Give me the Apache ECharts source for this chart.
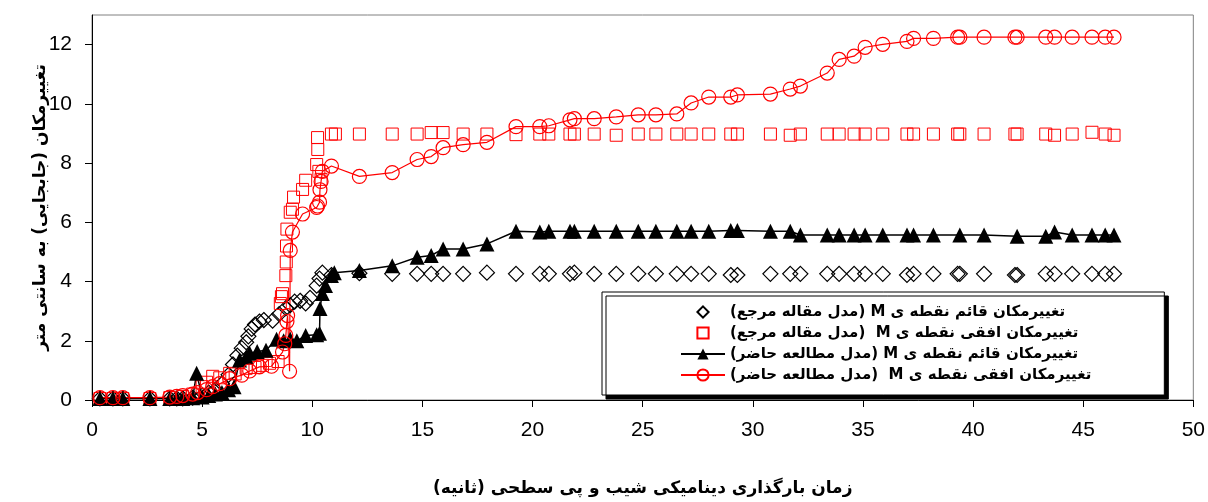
<!DOCTYPE html>
<html>
<head>
<meta charset="utf-8">
<script src="https://cdn.jsdelivr.net/npm/echarts@6/dist/echarts.min.js"></script>
<style>
  html, body { margin: 0; padding: 0; background: #fff; }
  #chart { width: 1208px; height: 502px; }
</style>
</head>
<body>
<div id="chart"></div>
<script>
// Displacement of point M (cm) against dynamic loading time (s)
// Reference model: vertical displacement (diamonds)
const refVertical = [
  [0.36,0.05],[0.95,0.05],[1.4,0.05],[2.63,0.05],[3.53,0.05],[3.85,0.05],[4.12,0.05],[4.57,0.08],
  [5.0,0.15],[5.3,0.25],[5.6,0.35],[5.9,0.55],[6.2,0.85],[6.4,1.2],[6.6,1.5],[6.8,1.75],[7.0,1.95],
  [7.1,2.15],[7.25,2.4],[7.4,2.55],[7.6,2.65],[7.8,2.7],[8.2,2.68],[8.5,2.9],[8.8,3.1],[9.0,3.2],
  [9.2,3.32],[9.45,3.35],[9.7,3.26],[9.9,3.45],[10.2,3.86],[10.33,4.1],[10.46,4.3],[10.87,4.22],
  [12.14,4.28],[13.63,4.26],[14.76,4.26],[15.4,4.26],[15.94,4.26],[16.85,4.26],[17.93,4.3],[19.25,4.26],
  [20.33,4.26],[20.74,4.26],[21.7,4.26],[21.9,4.3],[22.8,4.26],[23.8,4.26],[24.8,4.26],[25.6,4.26],
  [26.55,4.26],[27.2,4.26],[28.0,4.26],[29.0,4.22],[29.3,4.22],[30.8,4.26],[31.7,4.26],[32.16,4.26],
  [33.38,4.26],[33.92,4.26],[34.6,4.26],[35.1,4.26],[35.9,4.26],[37.0,4.22],[37.3,4.26],[38.2,4.26],
  [39.3,4.26],[39.4,4.26],[40.5,4.26],[41.9,4.22],[42.0,4.22],[43.3,4.26],[43.7,4.26],[44.5,4.26],
  [45.4,4.26],[46.0,4.26],[46.4,4.26]
];
// Reference model: horizontal displacement (squares)
const refHorizontal = [
  [0.36,0.05],[0.95,0.05],[1.4,0.05],[2.63,0.05],[3.53,0.08],[4.12,0.12],[4.57,0.2],[5.0,0.45],
  [5.2,0.6],[5.48,0.8],[5.8,0.75],[6.25,0.9],[6.5,0.88],[7.0,1.07],[7.4,1.1],[7.74,1.17],[8.06,1.24],
  [8.45,1.3],[8.55,3.26],[8.6,3.49],[8.65,3.59],[8.8,4.2],[8.82,4.66],[8.83,5.2],[8.85,5.77],[9.0,6.34],
  [9.1,6.44],[9.15,6.85],[9.56,7.11],[9.7,7.42],[10.2,7.95],[10.3,7.72],[10.4,7.45],[10.25,8.46],
  [10.24,8.86],[10.87,8.98],[11.05,8.98],
  [12.14,8.98],[13.63,8.98],[14.76,8.98],[15.4,9.03],[15.94,9.03],[16.85,8.98],[17.93,8.98],[19.25,8.96],
  [20.33,8.98],[20.74,8.98],[21.7,8.98],[21.9,8.98],[22.8,8.98],[23.8,8.94],[24.8,8.98],[25.6,8.98],
  [26.55,8.98],[27.2,8.98],[28.0,8.98],[29.0,8.98],[29.3,8.98],[30.8,8.98],[31.7,8.94],[32.16,8.98],
  [33.38,8.98],[33.92,8.98],[34.6,8.98],[35.1,8.98],[35.9,8.98],[37.0,8.98],[37.3,8.98],[38.2,8.98],
  [39.3,8.98],[39.4,8.98],[40.5,8.98],[41.9,8.98],[42.0,8.98],[43.3,8.98],[43.7,8.94],[44.5,8.98],
  [45.4,9.04],[46.0,8.98],[46.4,8.94]
];
// Present study: vertical displacement (triangles, joined)
const presentVertical = [
  [0.36,0.05],[0.95,0.05],[1.4,0.05],[2.63,0.05],[3.53,0.05],[3.85,0.05],[4.12,0.05],[4.57,0.08],
  [4.75,0.9],[5.0,0.1],[5.3,0.15],[5.6,0.2],[5.9,0.25],[6.2,0.35],[6.45,0.45],[6.7,1.35],[7.0,1.45],
  [7.16,1.58],[7.5,1.64],[7.9,1.68],[8.38,2.05],[8.7,2.0],[9.0,2.05],[9.3,2.0],[9.7,2.18],[10.2,2.2],
  [10.33,2.25],[10.35,3.09],[10.46,3.6],[10.6,3.87],[10.87,4.2],[11.0,4.3],
  [12.14,4.37],[13.63,4.53],[14.76,4.82],[15.4,4.88],[15.94,5.1],[16.85,5.1],[17.93,5.27],[19.25,5.7],
  [20.33,5.67],[20.74,5.7],[21.7,5.7],[21.9,5.7],[22.8,5.7],[23.8,5.7],[24.8,5.7],[25.6,5.7],
  [26.55,5.7],[27.2,5.7],[28.0,5.7],[29.0,5.72],[29.3,5.72],[30.8,5.7],[31.7,5.7],[32.16,5.57],
  [33.38,5.57],[33.92,5.57],[34.6,5.57],[35.1,5.57],[35.9,5.57],[37.0,5.57],[37.3,5.57],[38.2,5.57],
  [39.4,5.57],[40.5,5.57],[42.0,5.53],[43.3,5.53],[43.7,5.67],[44.5,5.57],[45.4,5.57],[46.0,5.57],
  [46.4,5.57]
];
// Present study: horizontal displacement (circles, joined)
const presentHorizontal = [
  [0.36,0.08],[0.95,0.08],[1.4,0.08],[2.63,0.08],[3.53,0.1],[3.85,0.12],[4.12,0.15],[4.57,0.2],
  [4.8,0.25],[5.2,0.35],[5.48,0.45],[5.8,0.55],[6.25,0.72],[6.8,0.84],[7.16,0.98],[7.6,1.12],[8.15,1.14],
  [8.65,1.62],[8.75,1.9],[8.8,2.18],[8.85,2.65],[8.88,2.85],[8.97,0.97],[9.0,5.05],[9.1,5.67],[9.56,6.28],
  [10.2,6.5],[10.24,6.55],[10.33,6.68],[10.35,7.1],[10.4,7.38],[10.46,7.72],[10.87,7.9],
  [12.14,7.55],[13.63,7.68],[14.76,8.12],[15.4,8.22],[15.94,8.52],[16.85,8.62],[17.93,8.7],[19.25,9.23],
  [20.33,9.23],[20.74,9.26],[21.7,9.46],[21.9,9.5],[22.8,9.5],[23.8,9.56],[24.8,9.63],[25.6,9.63],
  [26.55,9.66],[27.2,10.03],[28.0,10.23],[29.0,10.23],[29.3,10.3],[30.8,10.33],[31.7,10.5],[32.16,10.6],
  [33.38,11.04],[33.92,11.5],[34.6,11.61],[35.1,11.91],[35.9,12.01],[37.0,12.11],[37.3,12.21],[38.2,12.21],
  [39.3,12.25],[39.4,12.25],[40.5,12.25],[41.9,12.25],[42.0,12.25],[43.3,12.25],[43.7,12.25],[44.5,12.25],
  [45.4,12.25],[46.0,12.25],[46.4,12.25]
];

const yTickValues = [0, 2, 4, 6, 8, 10, 12];

// Right-to-left embedding for Persian strings
const RLE = '\u202B', PDF = '\u202C';
const rtl = s => RLE + s + PDF;

const seriesNames = [
  rtl('تغییرمکان قائم نقطه ی M (مدل مقاله مرجع)'),
  rtl('تغییرمکان افقی نقطه ی M  (مدل مقاله مرجع)'),
  rtl('تغییرمکان قائم نقطه ی M (مدل مطالعه حاضر)'),
  rtl('تغییرمکان افقی نقطه ی M  (مدل مطالعه حاضر)')
];
const yTitle = rtl('تغییرمکان (جابجایی) به سانتی متر');
const xTitle = rtl('زمان بارگذاری دینامیکی شیب و پی سطحی (ثانیه)');

const FA = 'DejaVu Sans';
const NUM = 'Liberation Sans, Arial, sans-serif';
const RED = '#ff0000';

const chart = echarts.init(document.getElementById('chart'), null, { renderer: 'canvas' });
chart.setOption({
  animation: false,
  backgroundColor: '#fff',
  grid: { left: 92, right: 12, top: 15, bottom: 100, show: true, borderColor: '#808080', borderWidth: 1 },
  xAxis: {
    type: 'value', min: 0, max: 50, interval: 5,
    axisLine: { show: true, onZero: false, lineStyle: { color: '#000', width: 1 } },
    axisTick: { show: true, length: 7, lineStyle: { color: '#000' } },
    axisLabel: { color: '#000', fontSize: 21, fontFamily: NUM, margin: 20 },
    splitLine: { show: false },
    name: xTitle, nameLocation: 'middle', nameGap: 80, nameMoveOverlap: false,
    nameTextStyle: { fontFamily: FA, fontWeight: 'bold', fontSize: 17, color: '#000' }
  },
  yAxis: {
    type: 'value', min: 0, max: 13, interval: 2,
    axisLine: { show: true, onZero: false, lineStyle: { color: '#000', width: 1 } },
    axisTick: { show: true, length: 7, lineStyle: { color: '#000' }, customValues: yTickValues },
    axisLabel: { color: '#000', fontSize: 21, fontFamily: NUM, margin: 20, customValues: yTickValues,
      formatter: v => (v > 12 ? '' : String(v)) },
    splitLine: { show: false },
    name: yTitle, nameLocation: 'middle', nameRotate: 90, nameGap: 43, nameMoveOverlap: false,
    nameTextStyle: { fontFamily: FA, fontWeight: 'bold', fontSize: 17, color: '#000' }
  },
  legend: {
    orient: 'vertical', left: 602, top: 292,
    padding: [12, 73, 12, 78],
    itemWidth: 44, itemHeight: 14, itemGap: 5,
    selectedMode: false,
    backgroundColor: '#fff', borderColor: '#000', borderWidth: 1,
    shadowColor: '#000', shadowOffsetX: 4, shadowOffsetY: 4, shadowBlur: 0,
    textStyle: { fontFamily: FA, fontWeight: 'bold', fontSize: 15, color: '#000', lineHeight: 16 },
    data: seriesNames
  },
  series: [
    {
      // unjoined markers: line drawn fully transparent
      name: seriesNames[0], type: 'line', data: refVertical,
      symbol: 'diamond', symbolSize: 15, showAllSymbol: true,
      lineStyle: { width: 0, opacity: 0 },
      itemStyle: { color: 'transparent', borderColor: '#000', borderWidth: 1.2 }
    },
    {
      name: seriesNames[1], type: 'line', data: refHorizontal,
      symbol: 'rect', symbolSize: 12, showAllSymbol: true,
      lineStyle: { width: 0, opacity: 0 },
      itemStyle: { color: 'transparent', borderColor: RED, borderWidth: 1 }
    },
    {
      name: seriesNames[2], type: 'line', data: presentVertical,
      symbol: 'triangle', symbolSize: 15, showAllSymbol: true,
      lineStyle: { color: '#000', width: 1.5 },
      itemStyle: { color: '#000', borderWidth: 0 }
    },
    {
      name: seriesNames[3], type: 'line', data: presentHorizontal,
      symbol: 'circle', symbolSize: 14, showAllSymbol: true,
      lineStyle: { color: RED, width: 1.2 },
      itemStyle: { color: 'transparent', borderColor: RED, borderWidth: 1.2 }
    }
  ]
});
</script>
</body>
</html>
